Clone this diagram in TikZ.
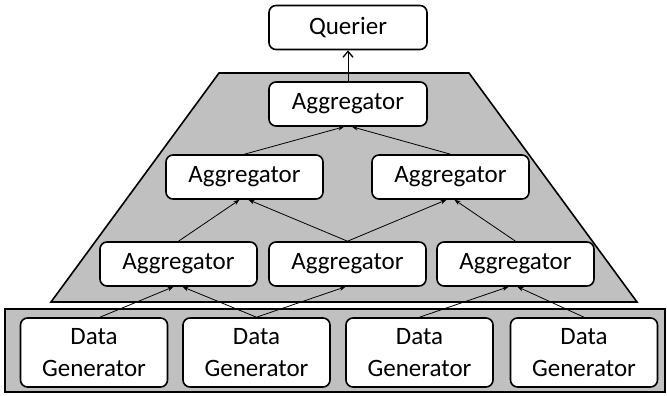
\documentclass[tikz,border=0pt]{standalone}
\usepackage{fontspec}
\setmainfont{Carlito}
\usetikzlibrary{arrows.meta}
\definecolor{panelgray}{RGB}{192,192,192}
\begin{document}
\begin{tikzpicture}[x=1pt,y=-1pt,
  box/.style={draw, fill=white, rounded corners=7pt, line width=1.6pt,
    inner sep=0pt, font=\fontsize{25}{32}\selectfont, align=center},
  aggbox/.style={box, minimum width=157pt, minimum height=44pt},
  genbox/.style={box, minimum width=147pt, minimum height=69pt},
  link/.style={line width=0.8pt, -{Stealth[length=6pt,width=4.5pt]}},
  uplink/.style={line width=0.8pt, -{Straight Barb[length=6pt,width=10pt,line width=1.3pt]}},
  panel/.style={draw, fill=panelgray, line width=1.6pt}]
\useasboundingbox (0,0) rectangle (667,396);

% shaded backgrounds: aggregation tree and generator layer
\draw[panel] (219,73) -- (469,73) -- (637,302) -- (51,302) -- cycle;
\draw[panel] (5,309) rectangle (665,392);

% nodes
\node[aggbox, minimum width=158pt] (q) at (348,27.5) {Querier};
\node[aggbox, minimum width=158pt] (a1) at (348,104) {Aggregator};
\node[aggbox] (a2l) at (244.5,177) {Aggregator};
\node[aggbox] (a2r) at (450.5,177) {Aggregator};
\node[aggbox] (a3l) at (178.5,264) {Aggregator};
\node[aggbox] (a3m) at (347.5,264) {Aggregator};
\node[aggbox] (a3r) at (515.5,264) {Aggregator};
\node[genbox] (g1) at (94,352.5) {Data\\Generator};
\node[genbox] (g2) at (256.5,352.5) {Data\\Generator};
\node[genbox] (g3) at (419.5,352.5) {Data\\Generator};
\node[genbox] (g4) at (584,352.5) {Data\\Generator};

% connectors
\draw[uplink] (a1.north) -- (q.south);
\draw[link] (a2l.north) -- ([xshift=-4pt]a1.south);
\draw[link] (a2r.north) -- ([xshift=4pt]a1.south);
\draw[link] (a3l.north) -- ([xshift=-5pt]a2l.south);
\draw[link] (a3m.north) -- ([xshift=4pt]a2l.south);
\draw[link] (a3m.north) -- ([xshift=-4pt]a2r.south);
\draw[link] (a3r.north) -- ([xshift=4pt]a2r.south);
\draw[link] ([xshift=6pt]g1.north) -- ([xshift=-5pt]a3l.south);
\draw[link] (g2.north) -- ([xshift=4pt]a3l.south);
\draw[link] (g2.north) -- ([xshift=-2pt]a3m.south);
\draw[link] (g3.north) -- ([xshift=-7pt]a3r.south);
\draw[link] (g4.north) -- ([xshift=2pt]a3r.south);
\end{tikzpicture}
\end{document}
